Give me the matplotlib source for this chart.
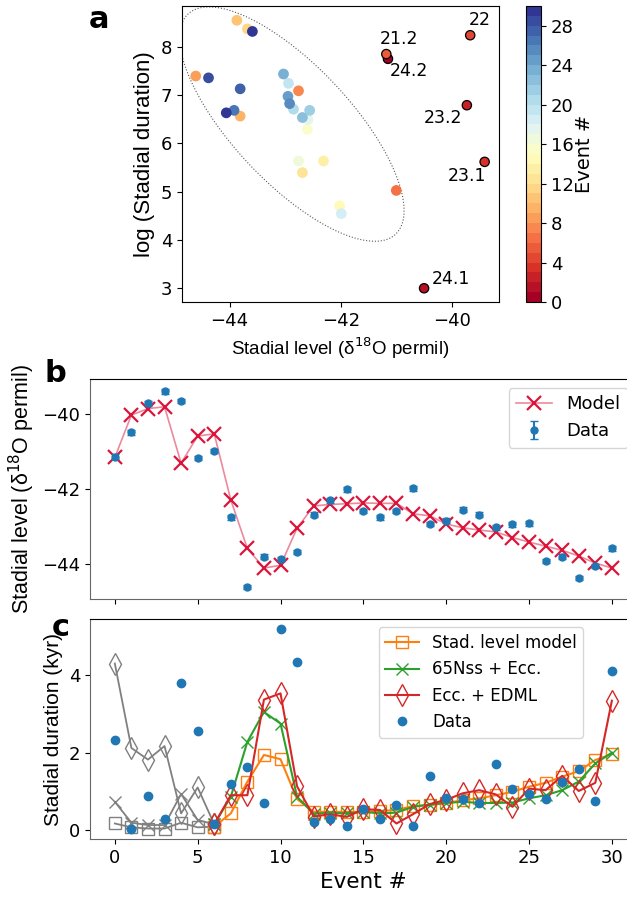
import numpy as np
import matplotlib
matplotlib.use('Agg')
import matplotlib.pyplot as plt

# event numbers 0..30
events = np.arange(31)

# stadial level (d18O permil) - data and model
level_data = [-41.15, -40.50, -39.73, -39.41, -39.67, -41.18, -41.00, -42.76, -44.61, -43.81,
              -43.87, -43.68, -42.69, -42.31, -42.02, -42.60, -42.76, -42.59, -41.99, -42.94,
              -42.85, -42.56, -42.69, -43.03, -42.95, -42.92, -43.92, -43.81, -44.38, -44.06,
              -43.59]
level_err = 0.06
level_model = [-41.17, -40.04, -39.87, -39.82, -41.32, -40.60, -40.54, -42.30, -43.59, -44.11,
               -44.04, -43.05, -42.46, -42.42, -42.40, -42.38, -42.39, -42.39, -42.67, -42.72,
               -42.94, -43.04, -43.10, -43.15, -43.30, -43.42, -43.53, -43.64, -43.79, -43.98,
               -44.11]

# stadial duration (kyr)
dur_data = [2.33, 0.020, 0.89, 0.275, 3.80, 2.57, 0.152, 1.20, 1.63, 0.71,
            5.18, 4.33, 0.22, 0.28, 0.11, 0.54, 0.28, 0.66, 0.094, 1.40,
            0.82, 0.80, 0.69, 1.70, 1.07, 0.92, 0.80, 1.25, 1.57, 0.76,
            4.11]
dur_level_model = [0.17, 0.07, 0.04, 0.04, 0.19, 0.07, 0.09, 0.43, 1.25, 1.94,
                   1.83, 0.80, 0.47, 0.47, 0.47, 0.47, 0.49, 0.52, 0.62, 0.64,
                   0.70, 0.77, 0.82, 0.90, 0.99, 1.12, 1.22, 1.38, 1.52, 1.81,
                   1.96]
dur_nss_ecc = [0.73, 0.19, 0.13, 0.13, 0.93, 0.26, 0.15, 0.86, 2.28, 3.05,
               2.75, 0.86, 0.42, 0.45, 0.43, 0.47, 0.43, 0.45, 0.60, 0.66,
               0.70, 0.73, 0.70, 0.70, 0.71, 0.82, 0.90, 1.03, 1.25, 1.72,
               2.00]
dur_ecc_edml = [4.30, 2.12, 1.82, 2.17, 0.43, 1.10, 0.15, 0.90, 0.90, 3.37,
                3.53, 1.13, 0.35, 0.41, 0.34, 0.54, 0.52, 0.17, 0.41, 0.67,
                0.78, 0.95, 1.03, 0.92, 0.60, 1.07, 1.03, 1.40, 1.01, 1.22,
                3.34]

# labelled outliers in panel a (events 0-5)
outlier_names = ['24.2', '24.1', '23.2', '23.1', '22', '21.2']
outlier_offsets = [(15, -9), (19, 7), (-17, -9), (-13, -10), (7, 11), (9, 11)]

# cluster ellipse (centre, half-extents in x and y, phase)
ell_center = (-42.88, 6.40)
ell_ext = (2.02, 2.43)
ell_phase = 0.74

n_grey = 6  # first events drawn in grey

fig = plt.figure(figsize=(6.27, 9.0), dpi=100)
lab_font = ['Liberation Sans', 'DejaVu Sans']

# ---------------- panel a ----------------
ax1 = fig.add_axes([0.290, 0.6644, 0.506, 0.329])
cax = fig.add_axes([0.839, 0.6644, 0.024, 0.329])
cmap = plt.get_cmap('RdYlBu', 30)
log_dur = np.log(np.array(dur_data) * 1000)
lev = np.array(level_data)

t = np.linspace(0, 2 * np.pi, 400)
ax1.plot(ell_center[0] + ell_ext[0] * np.cos(t),
         ell_center[1] - ell_ext[1] * np.cos(t - ell_phase),
         ls=':', color='0.35', lw=0.8)

sc = ax1.scatter(lev[n_grey:], log_dur[n_grey:], c=events[n_grey:], cmap=cmap,
                 vmin=0, vmax=30, s=45, zorder=3)
ax1.scatter(lev[:n_grey], log_dur[:n_grey], c=events[:n_grey], cmap=cmap,
            vmin=0, vmax=30, s=45, edgecolors='k', linewidths=0.9, zorder=4)
for i, name in enumerate(outlier_names):
    ax1.annotate(name, (lev[i], log_dur[i]), xytext=outlier_offsets[i],
                 textcoords='offset points', ha='center', va='center', fontsize=12.5)

ax1.set_xlim(-44.86, -39.15)
ax1.set_ylim(2.71, 8.85)
ax1.set_xticks([-44, -42, -40])
ax1.set_yticks([3, 4, 5, 6, 7, 8])
ax1.tick_params(labelsize=13)
ax1.set_xlabel('Stadial level (δ$^{18}$O permil)', fontsize=13.5, family=lab_font)
ax1.set_ylabel('log (Stadial duration)', fontsize=16, family=lab_font)
cb = fig.colorbar(sc, cax=cax)
cb.set_ticks(np.arange(0, 29, 4))
cb.ax.tick_params(labelsize=13)
cb.set_label('Event #', fontsize=14, labelpad=1)
fig.text(0.158, 0.978, 'a', fontsize=22, fontweight='bold', va='center', ha='center')

# ---------------- panel b ----------------
ax2 = fig.add_axes([0.1435, 0.3344, 0.872, 0.2444])
ax2.plot(events, level_model, '-x', color=(0.86, 0.08, 0.24, 0.5), mec='crimson',
         ms=10, mew=1.6, lw=1.2, label='Model')
ax2.errorbar(events, level_data, yerr=level_err, fmt='o', color='C0', ms=5,
             capsize=3, label='Data')
ax2.set_xlim(-1.5, 31.5)
ax2.set_xticks(np.arange(0, 31, 5))
ax2.set_yticks([-40, -42, -44])
ax2.tick_params(labelsize=13, labelbottom=False)
ax2.set_ylabel('Stadial level (δ$^{18}$O permil)', fontsize=15.5, family=lab_font)
ax2.legend(fontsize=13, loc='upper right')
fig.text(0.088, 0.585, 'b', fontsize=22, fontweight='bold', va='center', ha='center')

# ---------------- panel c ----------------
ax3 = fig.add_axes([0.1435, 0.0678, 0.872, 0.2444], sharex=ax2)
series = [(dur_level_model, 's', 'C1', 'Stad. level model', 9),
          (dur_nss_ecc, 'x', 'C2', '65Nss + Ecc.', 9),
          (dur_ecc_edml, 'd', 'C3', 'Ecc. + EDML', 11)]
for vals, mk, col, name, ms in series:
    vals = np.array(vals)
    ax3.plot(events[:n_grey + 1], vals[:n_grey + 1], marker=mk, color='gray',
             mfc='none', ms=ms, lw=1.3)
    ax3.plot(events[n_grey:], vals[n_grey:], marker=mk, color=col,
             mfc='none', ms=ms, lw=1.5, label=name)
ax3.plot(events, dur_data, 'o', color='C0', ms=6, label='Data', zorder=5)
ax3.set_xlim(-1.5, 31.5)
ax3.set_ylim(-0.23, 5.45)
ax3.set_yticks([0, 2, 4])
ax3.tick_params(labelsize=13)
ax3.set_xlabel('Event #', fontsize=15.5)
ax3.set_ylabel('Stadial duration (kyr)', fontsize=15, family=lab_font)
ax3.legend(fontsize=12, loc='upper left', bbox_to_anchor=(0.528, 0.962),
           borderaxespad=0)
fig.text(0.097, 0.303, 'c', fontsize=22, fontweight='bold', va='center', ha='center')

for ax in (ax2, ax3):
    ax.spines['left'].set_color('0.4')
    ax.spines['bottom'].set_color('0.4')

fig.savefig('out.png', dpi=100)
